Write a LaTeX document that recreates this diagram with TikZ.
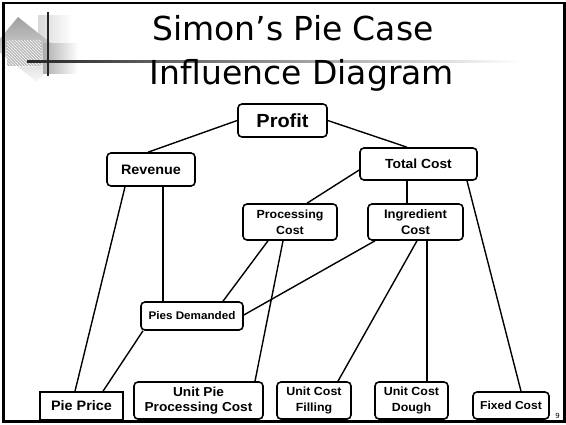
\documentclass[tikz,border=0pt]{standalone}
\usepackage{fontspec}
\setmainfont{DejaVu Sans}
\newfontfamily\boxfont[FakeStretch=1.05]{Liberation Sans}
\usetikzlibrary{calc,patterns}
\tikzset{
  box/.style={draw, line width=1.6pt, rounded corners=4pt, align=center, inner sep=0pt, font=\boxfont\bfseries},
  sqbox/.style={box, rounded corners=0pt},
  link/.style={line width=1.4pt},
  fs/.style={font=\boxfont\bfseries\fontsize{#1}{#1}\selectfont},
}
\begin{document}
\begin{tikzpicture}[x=1pt,y=-1pt]
\useasboundingbox (0,0) rectangle (566,424);
% decoration
\shade[left color=gray!30, right color=white] (38,15) rectangle (72,45);
\shade[top color=gray!75, bottom color=gray!5] (18,17) -- (62,52) -- (37,82) -- (-7,47) -- cycle;
\shade[left color=gray!65, right color=white] (43,43) rectangle (78,73);
\fill[gray!55] (7,40) rectangle (41,66);
\fill[pattern=north west lines, pattern color=white] (7,40) rectangle (41,66);
\shade[left color=black!85, right color=white] (27,60) rectangle (520,62.2);
\draw[line width=2pt, black!85] (48,12) -- (48,76);
% frame
\draw[line width=2.6pt] (3.5,3) rectangle (564.5,421.5);
% title
\node[font=\fontsize{33}{33}\selectfont, anchor=base, inner sep=0pt] (t1) at (293,40) {Simon’s Pie Case};
\node[font=\fontsize{33}{33}\selectfont, anchor=base, inner sep=0pt] (t2) at (302,84) {Influence Diagram};
% nodes
\node[box, fs=19, minimum width=89pt, minimum height=33pt] (profit) at (282.5,120.5) {Profit};
\node[box, fs=13.7, minimum width=88pt, minimum height=33pt] (rev) at (151,169.5) {Revenue};
\node[box, fs=13.2, minimum width=117pt, minimum height=32pt] (tc) at (418.5,164) {Total Cost};
\node[box, font=\boxfont\bfseries\fontsize{11.8}{16}\selectfont, minimum width=94pt, minimum height=36pt] (proc) at (290,222) {Processing\\Cost};
\node[box, font=\boxfont\bfseries\fontsize{12.4}{16}\selectfont, minimum width=95pt, minimum height=36pt] (ing) at (415.5,222) {Ingredient\\Cost};
\node[box, fs=11.1, minimum width=102pt, minimum height=28pt] (pies) at (192,316) {Pies Demanded};
\node[sqbox, fs=13.7, minimum width=83pt, minimum height=28pt] (price) at (81.5,406) {Pie Price};
\node[box, font=\boxfont\bfseries\fontsize{13}{14.5}\selectfont, minimum width=129pt, minimum height=37pt] (unitpie) at (198.5,400.5) {Unit Pie\\Processing Cost};
\node[box, font=\boxfont\bfseries\fontsize{11.8}{16}\selectfont, minimum width=74pt, minimum height=37pt] (fill) at (314,400.5) {Unit Cost\\Filling};
\node[box, font=\boxfont\bfseries\fontsize{11.8}{16}\selectfont, minimum width=73pt, minimum height=37pt] (dough) at (411.5,400.5) {Unit Cost\\Dough};
\node[box, fs=11.5, minimum width=76pt, minimum height=27pt] (fixed) at (511,405.5) {Fixed Cost};
\node[font=\fontsize{7}{7}\selectfont, inner sep=0pt] (pg) at (557.5,415.5) {9};
% connectors
\draw[link] (profit.west) -- ($(rev.north)+(-3,0)$);
\draw[link] (profit.east) -- ($(tc.north)+(-11.5,0)$);
\draw[link] ($(tc.west)+(0,6)$) -- ($(proc.north)+(17,0)$);
\draw[link] ($(tc.south)+(-11.5,0)$) -- ($(ing.north)+(-8.5,0)$);
\draw[link] ($(tc.south)+(48.5,0)$) -- ($(fixed.north)+(10,0)$);
\draw[link] ($(rev.south)+(-26,0)$) -- ($(price.north)+(-6.5,0)$);
\draw[link] ($(rev.south)+(12,0)$) -- ($(pies.north)+(-29,0)$);
\draw[link] ($(pies.south)+(-49,0)$) -- ($(price.north)+(21.5,0)$);
\draw[link] ($(proc.south)+(-22,0)$) -- ($(pies.north)+(31,0)$);
\draw[link] ($(proc.south)+(-7,0)$) -- ($(unitpie.north)+(56.5,0)$);
\draw[link] ($(ing.south)+(-40.5,0)$) -- ($(pies.east)+(0,-1)$);
\draw[link] ($(ing.south)+(1.5,0)$) -- ($(fill.north)+(24,0)$);
\draw[link] ($(ing.south)+(11.5,0)$) -- ($(dough.north)+(15.5,0)$);
\end{tikzpicture}
\end{document}
